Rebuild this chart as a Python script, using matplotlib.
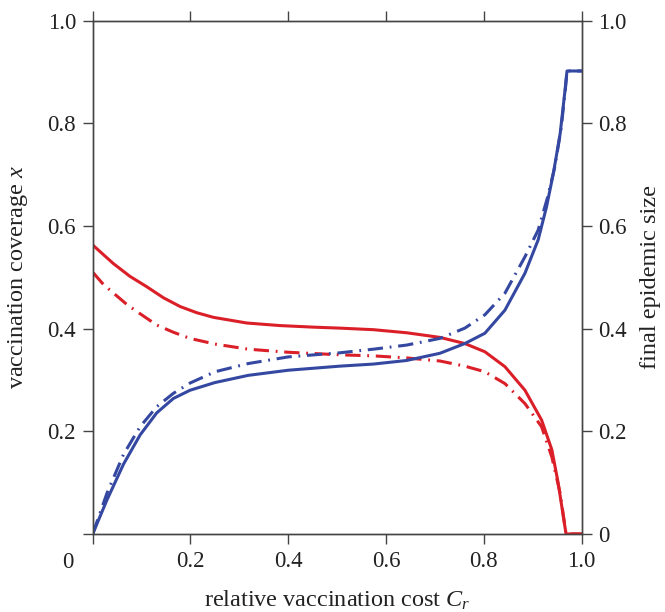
import matplotlib
matplotlib.use("Agg")
import matplotlib.pyplot as plt

plt.rcParams['font.family'] = ['Liberation Serif', 'DejaVu Serif']
plt.rcParams['mathtext.fontset'] = 'custom'
plt.rcParams['mathtext.rm'] = 'Liberation Serif'
plt.rcParams['mathtext.it'] = 'Liberation Serif:italic'

# relative vaccination cost vs. vaccination coverage (left axis)
cost_cov_solid = [0.0, 0.042, 0.076, 0.110, 0.145, 0.179, 0.213, 0.247, 0.315, 0.383, 0.450, 0.506,
                  0.574, 0.642, 0.710, 0.761, 0.802, 0.843, 0.884, 0.918, 0.939, 0.952, 0.968, 1.0]
cov_solid = [0.563, 0.527, 0.502, 0.482, 0.460, 0.443, 0.431, 0.422, 0.411, 0.406, 0.403, 0.401,
             0.398, 0.392, 0.383, 0.371, 0.355, 0.326, 0.280, 0.222, 0.164, 0.099, 0.0, 0.0]

cost_cov_dd = [0.001, 0.022, 0.049, 0.070, 0.097, 0.131, 0.165, 0.199, 0.250, 0.318, 0.400, 0.506,
               0.574, 0.642, 0.710, 0.761, 0.802, 0.843, 0.884, 0.918, 0.939, 0.956, 0.968, 1.0]
cov_dd = [0.509, 0.486, 0.464, 0.447, 0.429, 0.407, 0.393, 0.381, 0.370, 0.360, 0.354, 0.349,
          0.347, 0.343, 0.337, 0.327, 0.316, 0.293, 0.254, 0.209, 0.150, 0.079, 0.0, 0.0]

# relative vaccination cost vs. final epidemic size (right axis)
cost_epi_solid = [0.0, 0.029, 0.063, 0.097, 0.131, 0.165, 0.199, 0.250, 0.318, 0.400, 0.506, 0.574,
                  0.642, 0.710, 0.761, 0.802, 0.843, 0.884, 0.911, 0.928, 0.942, 0.956, 0.966, 0.970, 1.0]
epi_solid = [0.0, 0.066, 0.136, 0.193, 0.236, 0.264, 0.280, 0.295, 0.309, 0.319, 0.327, 0.331,
             0.338, 0.352, 0.371, 0.391, 0.436, 0.508, 0.573, 0.637, 0.702, 0.780, 0.865, 0.902, 0.902]

cost_epi_dd = [0.0, 0.029, 0.063, 0.097, 0.131, 0.165, 0.199, 0.250, 0.318, 0.400, 0.506, 0.574,
               0.642, 0.710, 0.761, 0.802, 0.843, 0.884, 0.911, 0.930, 0.945, 0.958, 0.967, 0.970, 1.0]
epi_dd = [0.0, 0.079, 0.155, 0.209, 0.248, 0.274, 0.294, 0.316, 0.332, 0.345, 0.353, 0.360,
          0.368, 0.381, 0.401, 0.427, 0.469, 0.540, 0.592, 0.655, 0.715, 0.790, 0.870, 0.902, 0.902]

xticks = [0, 0.2, 0.4, 0.6, 0.8, 1.0]
xticklabels = ['', '0.2', '0.4', '0.6', '0.8', '1.0']
yticks = [0, 0.2, 0.4, 0.6, 0.8, 1.0]
left_yticklabels = ['', '0.2', '0.4', '0.6', '0.8', '1.0']
right_yticklabels = ['0', '0.2', '0.4', '0.6', '0.8', '1.0']

RED = '#db1f28'
BLUE = '#3548a1'
SPINE = '#444444'
TXT = '#222222'
FS_TICK = 16.5
FS_LABEL = 17.5

fig = plt.figure(figsize=(6.65, 6.12), dpi=100)
ax = fig.add_axes([0.1394, 0.1275, 0.7353, 0.8387])
ax2 = ax.twinx()

ax.plot(cost_cov_solid, cov_solid, color=RED, lw=2.2)
ax.plot(cost_cov_dd, cov_dd, color=RED, lw=2.2, dashes=(5, 2.2, 0.6, 2.2))
ax2.plot(cost_epi_solid, epi_solid, color=BLUE, lw=2.2)
ax2.plot(cost_epi_dd, epi_dd, color=BLUE, lw=2.2, dashes=(5, 2.2, 0.6, 2.2))

for a in (ax, ax2):
    a.set_xlim(0, 1.0)
    a.set_ylim(0, 1.0)
    for s in a.spines.values():
        s.set_color(SPINE)
        s.set_linewidth(1.0)

ax.set_xticks(xticks)
ax.set_xticklabels(xticklabels)
ax.set_yticks(yticks)
ax.set_yticklabels(left_yticklabels)
ax2.set_yticks(yticks)
ax2.set_yticklabels(right_yticklabels)

ax.tick_params(axis='both', direction='out', length=7, width=1.0, color=SPINE,
               labelsize=FS_TICK, labelcolor=TXT, pad=5, top=True)
ax.tick_params(axis='x', labeltop=False)
ax2.tick_params(axis='y', direction='out', length=7, width=1.0, color=SPINE,
                labelsize=FS_TICK, labelcolor=TXT, pad=5)

ax.text(-0.0505, -0.0565, '0', transform=ax.transAxes, ha='center', va='center',
        fontsize=FS_TICK, color=TXT)

ax.set_xlabel(r'relative vaccination cost $C_r$', fontsize=FS_LABEL, color=TXT)
ax.xaxis.set_label_coords(0.5, -0.107)
ax.set_ylabel(r'vaccination coverage $x$', fontsize=FS_LABEL, color=TXT)
ax.yaxis.set_label_coords(-0.128, 0.5)
ax2.set_ylabel('final epidemic size', fontsize=FS_LABEL, color=TXT)
ax2.yaxis.set_label_coords(1.119, 0.5)

fig.savefig('out.png', dpi=100)
